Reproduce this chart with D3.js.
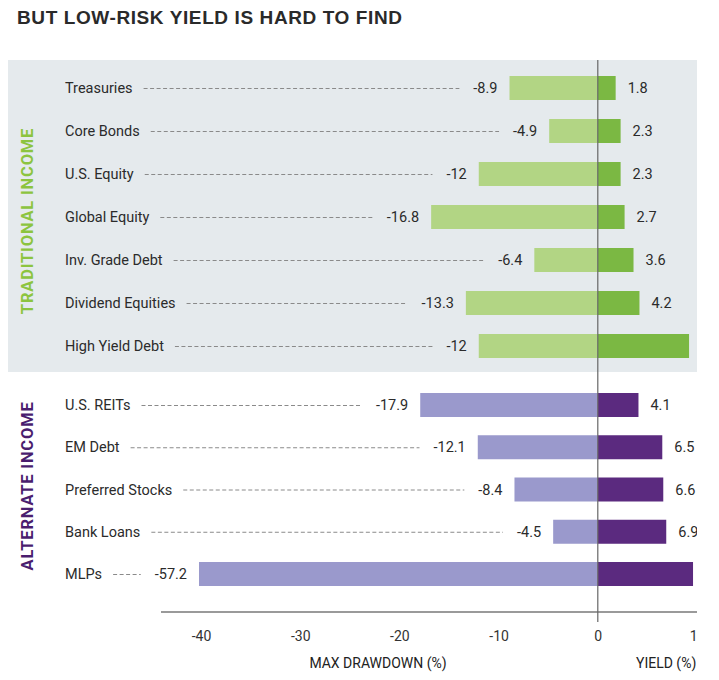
<!DOCTYPE html>
<html><head><meta charset="utf-8">
<script src="https://cdn.jsdelivr.net/npm/d3@7"></script>
<style>
body{margin:0;background:#fff;}
svg{display:block;font-family:Roboto,"Liberation Sans",Arial,sans-serif;}
</style></head>
<body><svg id="c" width="719" height="680"></svg>
<script>
const traditional = ["Treasuries","Core Bonds","U.S. Equity","Global Equity","Inv. Grade Debt","Dividend Equities","High Yield Debt"];
const tradDrawdown = [-8.9,-4.9,-12,-16.8,-6.4,-13.3,-12];
const tradYield = [1.8,2.3,2.3,2.7,3.6,4.2,9.2];
const alternate = ["U.S. REITs","EM Debt","Preferred Stocks","Bank Loans","MLPs"];
const altDrawdown = [-17.9,-12.1,-8.4,-4.5,-57.2];
const altYield = [4.1,6.5,6.6,6.9,9.6];
const ticks = [-40,-30,-20,-10,0,10];

const svg = d3.select("#c");
const x = d3.scaleLinear().domain([-40,10]).range([201,697]);
const clipMin = -40.2;
const edge = 697;
const yT = d3.scalePoint().domain(traditional).range([88,346]);
const yA = d3.scalePoint().domain(alternate).range([405,574]);
const fmt = v => String(v);

svg.append("defs").append("clipPath").attr("id","clip")
  .append("rect").attr("x",0).attr("y",0).attr("width",edge).attr("height",680);
const g = svg.append("g").attr("clip-path","url(#clip)");

// title
g.append("text").attr("x",17).attr("y",24).text("BUT LOW-RISK YIELD IS HARD TO FIND")
  .attr("font-family","'Liberation Sans',Arial,sans-serif").attr("font-weight","bold")
  .attr("font-size",19).attr("letter-spacing",0.6).attr("fill","#2a2a2a");

// panel
g.append("rect").attr("x",8).attr("y",60).attr("width",edge-8).attr("height",312).attr("fill","#e5eaed");

// axis
const axisY = 612;
const ax = g.append("g").attr("transform",`translate(0,${axisY})`)
  .call(d3.axisBottom(x).tickValues(ticks).tickSize(0).tickPadding(19).tickFormat(fmt));
ax.select(".domain").remove();
ax.selectAll("text").attr("font-size",14).attr("fill","#333").attr("font-family","Roboto,sans-serif");
g.append("line").attr("x1",161).attr("x2",edge).attr("y1",axisY).attr("y2",axisY).attr("stroke","#9a9a9a").attr("stroke-width",2);

g.append("text").attr("x",378).attr("y",668).attr("text-anchor","middle").attr("font-size",14).attr("fill","#222").text("MAX DRAWDOWN (%)");
g.append("text").attr("x",636).attr("y",668).attr("font-size",14).attr("fill","#222").text("YIELD (%)");

// group labels
g.append("text").attr("transform","translate(33,221) rotate(-90)").attr("text-anchor","middle")
  .attr("font-size",16.5).attr("letter-spacing",0.8).attr("font-weight","bold").attr("fill","#8cc43f").text("TRADITIONAL INCOME");
g.append("text").attr("transform","translate(33,486) rotate(-90)").attr("text-anchor","middle")
  .attr("font-size",16.5).attr("letter-spacing",0.8).attr("font-weight","bold").attr("fill","#4a1d6e").text("ALTERNATE INCOME");

const barH = 24;
const fs = 14.5;
function drawGroup(names, dd, yl, y, cNeg, cPos){
  names.forEach((n,i)=>{
    const cy = y(n);
    const row = g.append("g");
    const lab = row.append("text").attr("x",65).attr("y",cy).attr("dy","0.35em")
      .attr("font-size",fs).attr("fill","#2b2b2b").text(n);
    const lw = lab.node().getComputedTextLength();
    const left = x(Math.max(dd[i],clipMin));
    row.append("rect").attr("x",left).attr("y",cy-barH/2).attr("width",x(0)-left).attr("height",barH).attr("fill",cNeg);
    row.append("rect").attr("x",x(0)).attr("y",cy-barH/2).attr("width",x(yl[i])-x(0)).attr("height",barH).attr("fill",cPos);
    const vl = row.append("text").attr("x",left-12).attr("y",cy).attr("dy","0.35em").attr("text-anchor","end")
      .attr("font-size",fs).attr("fill","#2b2b2b").text(fmt(dd[i]));
    const vw = vl.node().getComputedTextLength();
    if (x(yl[i]) + 12 < edge - 10) {
      row.append("text").attr("x",x(yl[i])+12).attr("y",cy).attr("dy","0.35em")
        .attr("font-size",fs).attr("fill","#2b2b2b").text(fmt(yl[i]));
    }
    row.append("line").attr("x1",65+lw+11).attr("x2",left-12-vw-14).attr("y1",cy+0.5).attr("y2",cy+0.5)
      .attr("stroke","#8a8a8a").attr("stroke-width",1).attr("stroke-dasharray","4,2.5");
  });
}
drawGroup(traditional, tradDrawdown, tradYield, yT, "#b2d584", "#7bb843");
drawGroup(alternate, altDrawdown, altYield, yA, "#9a99cc", "#5b2a7f");

// zero line
g.append("line").attr("x1",x(0)).attr("x2",x(0)).attr("y1",60).attr("y2",622).attr("stroke","#666").attr("stroke-width",1.2);
</script></body></html>
